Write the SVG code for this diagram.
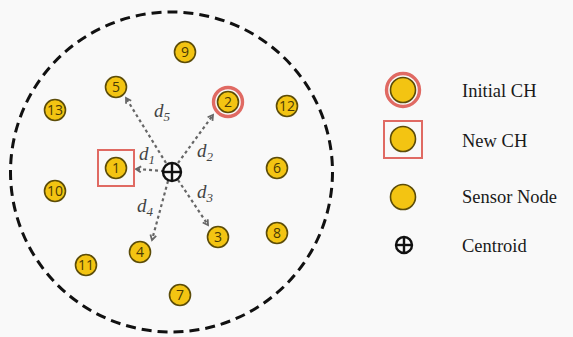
<svg xmlns="http://www.w3.org/2000/svg" width="573" height="337" viewBox="0 0 573 337">
<style>
.n circle{fill:#f3c412;stroke:#5c4c08;stroke-width:1.6}
.n circle.ring{fill:none;stroke:#e06a63;stroke-width:3.4}
.n text{font-family:"Open Sans","Liberation Sans",sans-serif;font-size:14px;fill:#4a3a05;text-anchor:middle}
.d{font-family:"Liberation Serif",serif;font-style:italic;font-size:19px;fill:#444}
.d tspan{font-size:13px}
.lg{font-family:"Liberation Serif",serif;font-size:18.5px;fill:#1a1a1a}
.ar{stroke:#666;stroke-width:2.2;stroke-dasharray:3 3;fill:none;marker-end:url(#ah)}
.sq{fill:none;stroke:#e06a63;stroke-width:2}
.cen{fill:none;stroke:#111;stroke-width:2.4}
</style>
<defs>
<marker id="ah" markerWidth="8" markerHeight="8" refX="6" refY="4" orient="auto" markerUnits="userSpaceOnUse">
<path d="M1,1 L6,4 L1,7" fill="none" stroke="#666" stroke-width="1.8"/>
</marker>
</defs>
<rect width="573" height="337" fill="#f9f9f9"/>
<ellipse cx="171.5" cy="172" rx="161" ry="160" fill="none" stroke="#111" stroke-width="3" stroke-dasharray="10 6"/>
<g id="connectors">
<line class="ar" x1="164" y1="171" x2="136" y2="169"/>
<line class="ar" x1="166" y1="163" x2="126" y2="98"/>
<line class="ar" x1="178" y1="163" x2="213" y2="115"/>
<line class="ar" x1="178" y1="180" x2="208" y2="225"/>
<line class="ar" x1="168" y1="181" x2="152" y2="240"/>
</g>
<g id="labels">
<text class="d" x="154" y="117">d<tspan dy="4">5</tspan></text>
<text class="d" x="139" y="160">d<tspan dy="4">1</tspan></text>
<text class="d" x="197" y="157">d<tspan dy="4">2</tspan></text>
<text class="d" x="197" y="198">d<tspan dy="4">3</tspan></text>
<text class="d" x="137" y="212">d<tspan dy="4">4</tspan></text>
</g>
<g id="node9" class="n"><circle cx="185" cy="52" r="10.5"/><text x="185" y="57">9</text></g>
<g id="node5" class="n"><circle cx="116" cy="87" r="10.5"/><text x="116" y="92">5</text></g>
<g id="node2" class="n"><circle class="ring" cx="228" cy="102" r="14.5"/><circle cx="228" cy="102" r="10.5"/><text x="228" y="107">2</text></g>
<g id="node13" class="n"><circle cx="55" cy="110" r="10.5"/><text x="55" y="115">13</text></g>
<g id="node12" class="n"><circle cx="287" cy="106" r="10.5"/><text x="287" y="111">12</text></g>
<g id="node1" class="n"><rect class="sq" x="98" y="150" width="36" height="36"/><circle cx="116" cy="168" r="10.5"/><text x="116" y="173">1</text></g>
<g id="node6" class="n"><circle cx="277" cy="168" r="10.5"/><text x="277" y="173">6</text></g>
<g id="node10" class="n"><circle cx="55" cy="191" r="10.5"/><text x="55" y="196">10</text></g>
<g id="node3" class="n"><circle cx="218" cy="237" r="10.5"/><text x="218" y="242">3</text></g>
<g id="node8" class="n"><circle cx="277" cy="233" r="10.5"/><text x="277" y="238">8</text></g>
<g id="node4" class="n"><circle cx="140" cy="252" r="10.5"/><text x="140" y="257">4</text></g>
<g id="node11" class="n"><circle cx="86" cy="265" r="10.5"/><text x="86" y="270">11</text></g>
<g id="node7" class="n"><circle cx="180" cy="295" r="10.5"/><text x="180" y="300">7</text></g>
<g id="centroid"><circle class="cen" cx="172" cy="172" r="9"/><line class="cen" x1="163" y1="172" x2="181" y2="172"/><line class="cen" x1="172" y1="163" x2="172" y2="181"/></g>
<g id="legend">
<g class="n"><circle class="ring" cx="403" cy="90" r="16.5"/><circle cx="403" cy="90" r="12.5"/></g>
<text class="lg" x="462" y="97">Initial CH</text>
<g class="n"><rect class="sq" x="384" y="121" width="38" height="37"/><circle cx="403" cy="139" r="12.5"/></g>
<text class="lg" x="462" y="147">New CH</text>
<g class="n"><circle cx="403" cy="197" r="12.5"/></g>
<text class="lg" x="462" y="203">Sensor Node</text>
<g><circle class="cen" cx="404" cy="245" r="8"/><line class="cen" x1="396" y1="245" x2="412" y2="245"/><line class="cen" x1="404" y1="237" x2="404" y2="253"/></g>
<text class="lg" x="462" y="252">Centroid</text>
</g>
</svg>
